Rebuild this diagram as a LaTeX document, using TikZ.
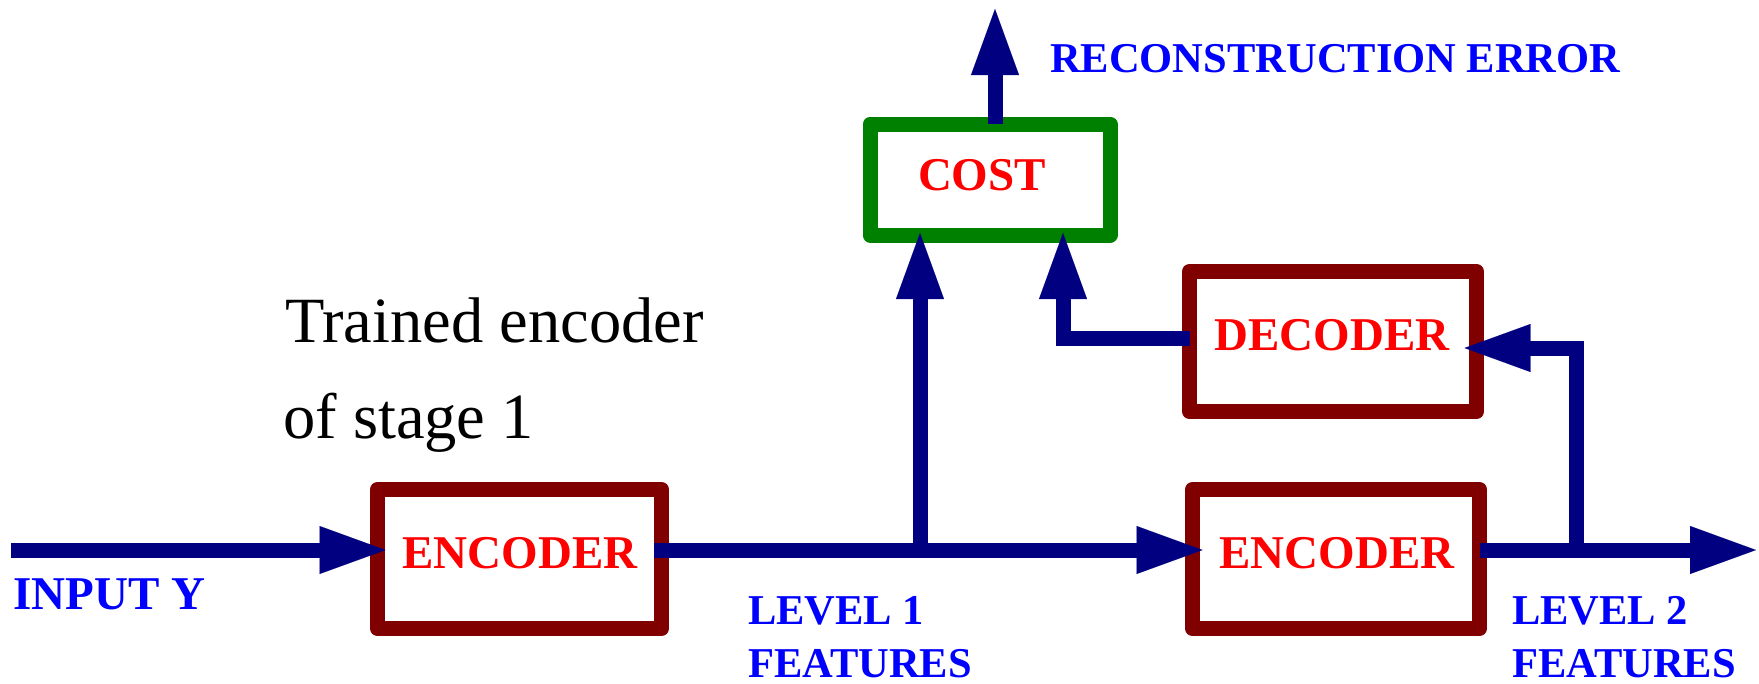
\documentclass[tikz,border=0pt]{standalone}
\usepackage{fontspec}
\setmainfont{Liberation Serif}
\usetikzlibrary{arrows.meta}
\definecolor{boxred}{HTML}{800000}
\definecolor{boxgreen}{HTML}{008000}
\definecolor{wire}{HTML}{000080}
\definecolor{lblue}{HTML}{0000FF}
\definecolor{tred}{HTML}{FF0000}
\begin{document}
\begin{tikzpicture}[x=1pt,y=-1pt,
  blk/.style={draw=boxred,line width=15pt,line join=round,rectangle,inner sep=0pt,outer sep=0pt,fill=white},
  costblk/.style={blk,draw=boxgreen},
  wirel/.style={draw=wire,line width=15pt,line cap=butt},
  arr/.style={wirel,-{Triangle[length=66pt,width=48pt,line width=0.1pt]}},
  redtxt/.style={anchor=base,inner sep=0pt,text=tred,font=\fontsize{47}{47}\selectfont\bfseries},
  bluetxt/.style={anchor=base west,inner sep=0pt,text=lblue,font=\fontsize{42.5}{50}\selectfont\bfseries},
  bigblue/.style={bluetxt,font=\fontsize{47}{50}\selectfont\bfseries},
  notetxt/.style={anchor=base west,inner sep=0pt,text=black,font=\fontsize{64.5}{70}\selectfont},
]
\useasboundingbox (0,0) rectangle (1759,683);

% boxes
\node[blk,minimum width=284pt,minimum height=139pt] (enc1) at (519.5,559) {};
\node[blk,minimum width=287pt,minimum height=139pt] (enc2) at (1336,559) {};
\node[blk,minimum width=287pt,minimum height=140pt] (dec) at (1333,341.5) {};
\node[costblk,minimum width=240pt,minimum height=111pt] (cost) at (990,179.5) {};

% box texts
\node[redtxt] (enc1t) at (520,568) {ENCODER};
\node[redtxt] (enc2t) at (1337,568) {ENCODER};
\node[redtxt] (dect) at (1332,350) {DECODER};
\node[redtxt] (costt) at (982,190) {COST};

% coordinates
\coordinate (inY) at (11,550);
\coordinate (j1) at (920,550);
\coordinate (j2) at (1576,550);
\coordinate (c2) at (1063,235);
\coordinate (errtip) at (995,9);
\coordinate (outtip) at (1756,550);

% connectors
\draw[arr,shorten >=-8pt] (inY) -- (inY -| enc1.west);
\draw[arr,shorten <=-8pt,shorten >=-10pt] (inY -| enc1.east) -- (inY -| enc2.west);
\draw[arr,shorten >=-2pt] (j1) -- (j1 |- cost.south);
\draw[arr,shorten >=-2pt] ([yshift=3pt]dec.west) -| (c2);
\draw[arr] (errtip |- cost.north) -- (errtip);
\draw[arr] (inY -| enc2.east) -- (outtip);
\draw[arr,shorten >=-12pt] (j2) |- ([yshift=-6.5pt]dec.east);

% labels
\node[bigblue] (inlab) at (13,609) {INPUT Y};
\node[bluetxt] (lv1a) at (748,624) {LEVEL 1};
\node[bluetxt] (lv1b) at (748,677) {FEATURES};
\node[bluetxt] (lv2a) at (1512,624) {LEVEL 2};
\node[bluetxt] (lv2b) at (1512,677) {FEATURES};
\node[bluetxt] (recon) at (1050,72) {RECONSTRUCTION ERROR};
\node[notetxt] (note1) at (285,342) {Trained encoder};
\node[notetxt] (note2) at (283,438) {of stage 1};
\end{tikzpicture}
\end{document}
